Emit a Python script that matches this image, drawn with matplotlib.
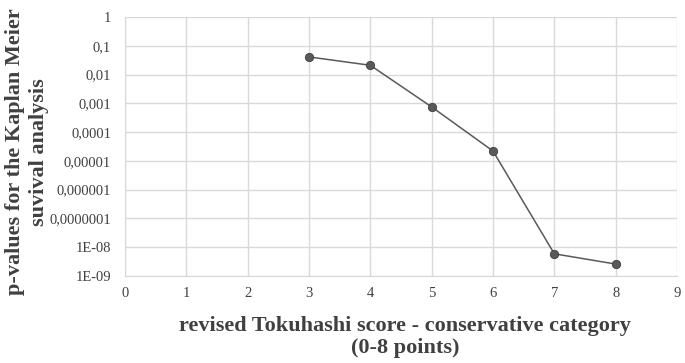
import numpy as np
import matplotlib.pyplot as plt
from matplotlib.ticker import FixedLocator, FixedFormatter

scores = [3, 4, 5, 6, 7, 8]
p_values = [0.041, 0.021, 0.00075, 0.000022, 5.9e-9, 2.6e-9]

y_ticks = [1, 0.1, 0.01, 0.001, 0.0001, 0.00001, 0.000001, 0.0000001, 1e-8, 1e-9]
y_labels = ['1', '0,1', '0,01', '0,001', '0,0001', '0,00001', '0,000001',
            '0,0000001', '1E-08', '1E-09']
x_ticks = list(range(0, 10))

plt.rcParams['font.family'] = ['Liberation Serif', 'DejaVu Serif']

fig = plt.figure(figsize=(6.85, 3.63), dpi=100)
ax = fig.add_axes([125 / 685, 1 - 276 / 363, (677 - 125) / 685, (276 - 17) / 363])

ax.plot(scores, p_values, color='#595959', lw=1.1, marker='o', ms=6,
        mfc='#595959', mec='#404040', mew=0.6, zorder=3)

ax.set_yscale('log')
ax.set_ylim(1e-9, 1)
ax.set_xlim(0, 9)
ax.yaxis.set_major_locator(FixedLocator(y_ticks))
ax.yaxis.set_major_formatter(FixedFormatter(y_labels))
ax.yaxis.set_minor_locator(FixedLocator([]))
ax.set_xticks(x_ticks)

ax.grid(True, color='#d9d9d9', lw=1)
ax.set_axisbelow(True)
for s in ['top', 'right']:
    ax.spines[s].set_visible(False)
for s in ['left', 'bottom']:
    ax.spines[s].set_color('#d9d9d9')
ax.tick_params(axis='y', length=0, labelsize=10.5, colors='#404040', pad=10)
ax.tick_params(axis='x', length=0, labelsize=10.5, colors='#404040', pad=8)

# axis titles placed as figure text
fig.text(27 / 685, 1 - 152 / 363, 'p-values for the Kaplan Meier\nsuvival analysis',
         rotation=90, ha='center', va='center', multialignment='center',
         fontsize=16, fontweight='bold', color='#404040', linespacing=1.25)
fig.text(405 / 685, 1 - 337 / 363,
         'revised Tokuhashi score - conservative category\n(0-8 points)',
         ha='center', va='center', multialignment='center',
         fontsize=16, fontweight='bold', color='#404040', linespacing=1.2)

fig.savefig('out.png', dpi=100)
